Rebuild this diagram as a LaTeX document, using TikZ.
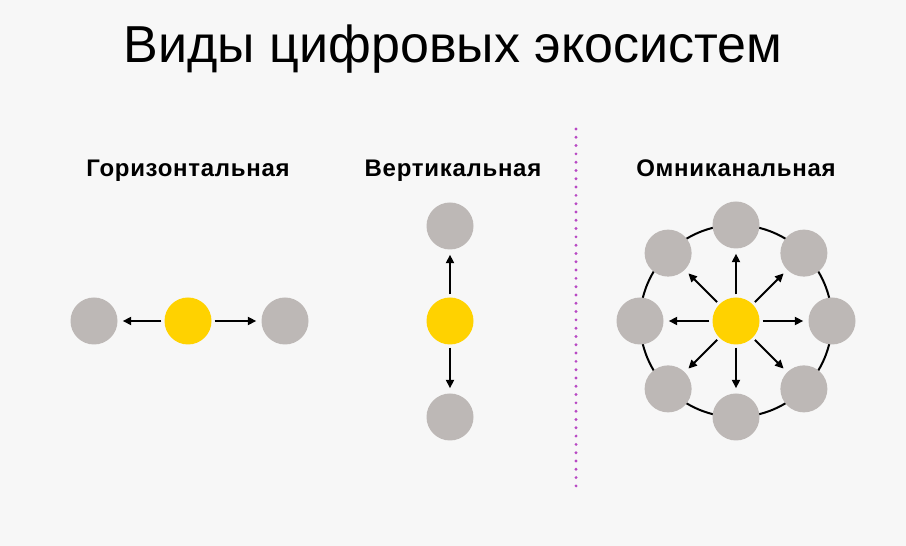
\documentclass[tikz,border=0pt]{standalone}
\usepackage{fontspec}
\setmainfont{Liberation Sans}
\usetikzlibrary{arrows.meta}
\definecolor{paper}{HTML}{F7F7F7}
\definecolor{hubyellow}{HTML}{FFD200}
\definecolor{leafgray}{HTML}{BDB8B6}
\definecolor{splitpink}{HTML}{B848C4}
\begin{document}
\begin{tikzpicture}[x=1pt,y=1pt,
  hub/.style={circle,fill=hubyellow,minimum size=47pt,inner sep=0pt},
  leaf/.style={circle,fill=leafgray,minimum size=47pt,inner sep=0pt},
  link/.style={-{Triangle[length=8.5pt,width=8pt]},line width=1.8pt,shorten <=3pt,shorten >=5pt},
  head/.style={font=\bfseries\fontsize{24}{28}\selectfont\addfontfeatures{LetterSpace=3},anchor=base}]

\fill[paper] (0,0) rectangle (906,546);
\useasboundingbox (0,0) rectangle (906,546);

\node[anchor=base,font=\fontsize{52}{60}\selectfont] (title) at (453,483) {Виды цифровых экосистем};

%% horizontal
\node[head] (hlabel) at (188,369) {Горизонтальная};
\node[hub] (hc) at (188,225) {};
\node[leaf] (hl) at (94,225) {};
\node[leaf] (hr) at (285,225) {};
\draw[link] (hc) -- (hl);
\draw[link] (hc) -- (hr);

%% vertical
\node[head] (vlabel) at (453,369) {Вертикальная};
\node[hub] (vc) at (450,225) {};
\node[leaf] (vt) at (450,320) {};
\node[leaf] (vb) at (450,129) {};
\draw[link] (vc) -- (vt);
\draw[link] (vc) -- (vb);

%% divider
\draw[splitpink,line width=3.2pt,line cap=round,dash pattern=on 0pt off 8.3pt] (576,417) -- (576,52);

%% omnichannel
\node[head] (olabel) at (736,369) {Омниканальная};
\begin{scope}[shift={(736,225)}]
\draw[line width=2pt] (0,0) circle[radius=96];
\node[hub] (oc) at (0,0) {};
\node[leaf] (o0) at (0:96) {};
\node[leaf] (o45) at (45:96) {};
\node[leaf] (o90) at (90:96) {};
\node[leaf] (o135) at (135:96) {};
\node[leaf] (o180) at (180:96) {};
\node[leaf] (o225) at (225:96) {};
\node[leaf] (o270) at (270:96) {};
\node[leaf] (o315) at (315:96) {};
\draw[link] (oc) -- (o0);
\draw[link] (oc) -- (o45);
\draw[link] (oc) -- (o90);
\draw[link] (oc) -- (o135);
\draw[link] (oc) -- (o180);
\draw[link] (oc) -- (o225);
\draw[link] (oc) -- (o270);
\draw[link] (oc) -- (o315);
\end{scope}

\end{tikzpicture}
\end{document}
